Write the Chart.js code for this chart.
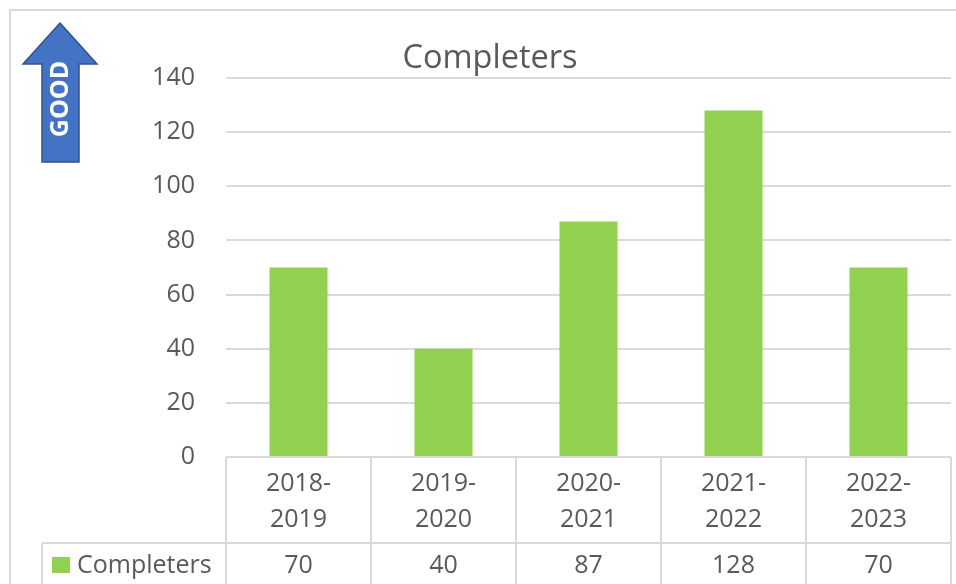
<!DOCTYPE html>
<html>
<head>
<meta charset="utf-8">
<script src="https://cdn.jsdelivr.net/npm/chart.js@4"></script>
<style>
  body { margin: 0; background: #fff; }
  #wrap { width: 956px; height: 584px; position: relative; }
</style>
</head>
<body>
<div id="wrap"><canvas id="chart" width="956" height="584"></canvas></div>
<script>
const categories = ["2018-2019", "2019-2020", "2020-2021", "2021-2022", "2022-2023"];
const completers = [70, 40, 87, 128, 70];
const yTicks = [0, 20, 40, 60, 80, 100, 120, 140];

const textColor = "#595959";
const lineColor = "#d9d9d9";
const barColor = "#92d050";
const fontFamily = "'Open Sans', 'Noto Sans', sans-serif";

// draws the outer border, the GOOD arrow, the title and the data table
const extras = {
    id: "extras",
    beforeDraw(chart) {
        const ctx = chart.ctx;
        ctx.save();
        ctx.strokeStyle = lineColor;
        ctx.lineWidth = 2;
        ctx.strokeRect(10, 10, 1100, 1100);
        ctx.restore();
    },
    afterDraw(chart) {
        const ctx = chart.ctx;
        const x = chart.scales.x;
        const area = chart.chartArea;
        const n = categories.length;
        const step = (area.right - area.left) / n;
        const rowTop = 543;
        const bottom = 600;

        ctx.save();
        // table lines
        ctx.strokeStyle = lineColor;
        ctx.lineWidth = 2;
        ctx.beginPath();
        ctx.moveTo(area.left, area.bottom);
        ctx.lineTo(area.right, area.bottom);
        ctx.moveTo(42, rowTop);
        ctx.lineTo(area.right, rowTop);
        ctx.moveTo(42, rowTop);
        ctx.lineTo(42, bottom);
        for (let i = 0; i <= n; i++) {
            const px = area.left + i * step;
            ctx.moveTo(px, area.bottom);
            ctx.lineTo(px, bottom);
        }
        ctx.stroke();

        // legend key and values
        ctx.fillStyle = barColor;
        ctx.fillRect(52, 557, 18, 16);
        ctx.fillStyle = textColor;
        ctx.font = "25px " + fontFamily;
        ctx.textBaseline = "middle";
        ctx.textAlign = "left";
        ctx.fillText(chart.data.datasets[0].label, 77, 566);
        ctx.textAlign = "center";
        completers.forEach((v, i) => {
            ctx.fillText(String(v), x.getPixelForValue(i), 566);
        });

        // title
        ctx.font = "32.5px " + fontFamily;
        ctx.fillText("Completers", 490, 59);

        // GOOD arrow
        ctx.beginPath();
        ctx.moveTo(60, 23);
        ctx.lineTo(97, 64);
        ctx.lineTo(79, 64);
        ctx.lineTo(79, 162);
        ctx.lineTo(42, 162);
        ctx.lineTo(42, 64);
        ctx.lineTo(23, 64);
        ctx.closePath();
        ctx.fillStyle = "#4472c4";
        ctx.fill();
        ctx.strokeStyle = "#2f528f";
        ctx.lineWidth = 1.5;
        ctx.stroke();

        ctx.translate(60, 99);
        ctx.rotate(-Math.PI / 2);
        ctx.fillStyle = "#ffffff";
        ctx.font = "bold 25px " + fontFamily;
        ctx.textAlign = "center";
        ctx.textBaseline = "middle";
        ctx.fillText("GOOD", 0, 1);
        ctx.restore();
    }
};

new Chart(document.getElementById("chart"), {
    type: "bar",
    data: {
        labels: categories,
        datasets: [{
            label: "Completers",
            data: completers,
            backgroundColor: barColor,
            categoryPercentage: 1,
            barPercentage: 0.4
        }]
    },
    options: {
        responsive: false,
        animation: false,
        layout: { padding: { top: 78, right: 5, left: 0, bottom: 0 } },
        plugins: {
            legend: { display: false },
            tooltip: { enabled: false }
        },
        scales: {
            x: {
                grid: { display: false },
                border: { display: false },
                ticks: {
                    color: textColor,
                    font: { family: fontFamily, size: 25, lineHeight: 1.44 },
                    padding: 1,
                    maxRotation: 0,
                    callback: function (v, i) {
                        const s = categories[i];
                        return [s.slice(0, 5), s.slice(5)];
                    }
                },
                afterFit: s => { s.height = 127; }
            },
            y: {
                min: 0,
                max: 140,
                grid: { color: lineColor, lineWidth: 2, drawTicks: false },
                border: { display: false },
                afterBuildTicks: s => { s.ticks = yTicks.map(v => ({ value: v })); },
                ticks: {
                    color: textColor,
                    font: { family: fontFamily, size: 25 },
                    padding: 31
                },
                afterFit: s => { s.width = 226; }
            }
        }
    },
    plugins: [extras]
});
</script>
</body>
</html>
